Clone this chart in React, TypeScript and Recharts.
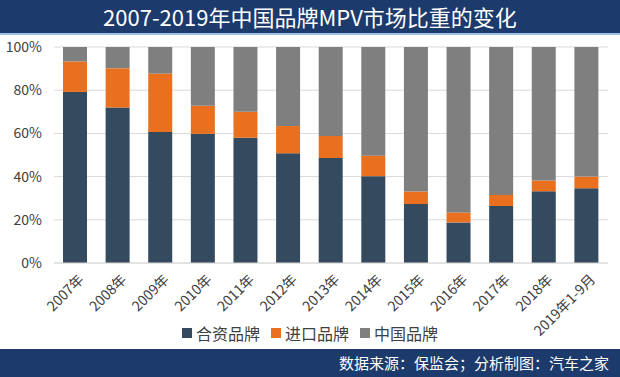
import React from "react";
import { BarChart, Bar, XAxis, YAxis, CartesianGrid, Legend } from "recharts";

const categories = ["2007年", "2008年", "2009年", "2010年", "2011年", "2012年", "2013年", "2014年", "2015年", "2016年", "2017年", "2018年", "2019年1-9月"];
const jointVenture = [79.2, 72.0, 60.7, 59.8, 58.0, 50.8, 48.6, 40.2, 27.3, 18.8, 26.4, 33.2, 34.6];
const imported = [14.1, 18.2, 27.0, 13.0, 12.0, 12.6, 10.2, 9.5, 5.8, 4.6, 5.1, 5.0, 5.4];
const chinese = [6.7, 9.8, 12.3, 27.2, 30.0, 36.6, 41.2, 50.3, 66.9, 76.6, 68.5, 61.8, 60.0];
const yTicks = [0, 20, 40, 60, 80, 100];
const seriesNames = ["合资品牌", "进口品牌", "中国品牌"];
const seriesColors = ["#344A5F", "#E8701F", "#7F7F7F"];

const data = categories.map((c, i) => ({
  name: c,
  合资品牌: jointVenture[i],
  进口品牌: imported[i],
  中国品牌: chinese[i],
}));

const FONT = '"Noto Sans CJK SC", "Noto Sans", sans-serif';
const NAVY = "#1C3A6C";

const RotTick = (props: any) => {
  const { x, y, payload } = props;
  return (
    <text
      transform={`translate(${x + 6}, ${y + 6}) rotate(-45)`}
      textAnchor="end"
      dy="0.35em"
      fontSize={14}
      fill="#404040"
      fontFamily={FONT}
    >
      {payload.value}
    </text>
  );
};

const LegendContent = () => (
  <div style={{ display: "flex", justifyContent: "center", alignItems: "center", fontFamily: FONT, fontSize: 16, color: "#404040", paddingLeft: 4 }}>
    {seriesNames.map((n, i) => (
      <div key={n} style={{ display: "flex", alignItems: "center", marginRight: i < 2 ? 11 : 0 }}>
        <span style={{ display: "inline-block", width: 10, height: 10, background: seriesColors[i], marginRight: 4 }} />
        <span>{n}</span>
      </div>
    ))}
  </div>
);

export default function App() {
  return (
    <div style={{ position: "fixed", left: 0, top: 0, width: 620, height: 377, background: "#fff", fontFamily: FONT, overflow: "hidden" }}>
      <div style={{ position: "absolute", left: 0, top: 0, width: 620, height: 33, background: NAVY, color: "#fff", fontSize: 22, lineHeight: "33px", textAlign: "center" }}>
        2007-2019年中国品牌MPV市场比重的变化
      </div>
      <div style={{ position: "absolute", left: 0, top: 33, width: 620, height: 2, background: "#9CC3E6" }} />
      <div style={{ position: "absolute", left: 0, top: 0 }}>
        <BarChart
          width={620}
          height={349}
          data={data}
          margin={{ top: 47, right: 12, left: 8, bottom: 4 }}
          barSize={24}
        >
          <CartesianGrid vertical={false} stroke="#D9D9D9" />
          <XAxis
            dataKey="name"
            interval={0}
            tick={<RotTick />}
            tickLine={false}
            axisLine={{ stroke: "#D9D9D9" }}
            height={58}
          />
          <YAxis
            domain={[0, 100]}
            ticks={yTicks}
            tickFormatter={(v: number) => `${v}%`}
            tickLine={false}
            axisLine={false}
            width={46}
            tickMargin={6}
            tick={{ fontSize: 14, fill: "#404040", fontFamily: FONT }}
          />
          <Legend verticalAlign="bottom" align="center" content={<LegendContent />} />
          <Bar dataKey="合资品牌" stackId="a" fill={seriesColors[0]} isAnimationActive={false} />
          <Bar dataKey="进口品牌" stackId="a" fill={seriesColors[1]} isAnimationActive={false} />
          <Bar dataKey="中国品牌" stackId="a" fill={seriesColors[2]} isAnimationActive={false} />
        </BarChart>
      </div>
      <div style={{ position: "absolute", left: 0, top: 349, width: 620, height: 28, background: NAVY, color: "#fff", fontSize: 15, lineHeight: "28px", textAlign: "right", paddingRight: 11, boxSizing: "border-box" }}>
        数据来源：保监会；分析制图：汽车之家
      </div>
    </div>
  );
}
